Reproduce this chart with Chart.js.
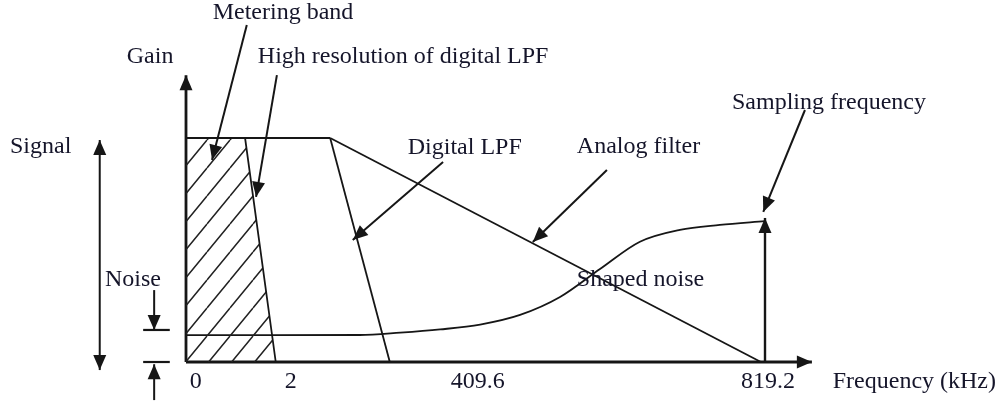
<!DOCTYPE html>
<html>
<head>
<meta charset="utf-8">
<script src="https://cdn.jsdelivr.net/npm/chart.js@4"></script>
<style>
  body { margin: 0; background: #fff; }
  canvas { display: block; }
</style>
</head>
<body>
<canvas id="diagram" width="1006" height="403"></canvas>
<script>
// schematic units: x 0..100 = axis origin .. sampling frequency, y 0..100 = floor .. signal level
const xTickLabels = ['0', '2', '409.6', '819.2'];
const xTickPos = [1.7, 18.1, 50.4, 100.5];

const signalTop = [[0, 100], [24.9, 100]];
const hiResLpf = [[0, 100], [10.2, 100], [15.5, 0]];
const digitalLpf = [[24.9, 100], [35.2, 0]];
const analogFilter = [[24.9, 100], [99.3, 0]];
const noiseX = [0, 15, 30, 37, 43.9, 50.8, 57.7, 64.6, 71.5, 78.4, 85.3, 92.2, 100];
const noiseY = [12, 12, 12.05, 13.1, 14.55, 16.7, 21, 29, 41.5, 53.7, 59, 61.2, 62.9];
const samplingLine = [[100, 0], [100, 64.3]];
const gainAxis = [[0, 0], [0, 128]];
const freqAxis = [[0, 0], [108.1, 0]];

// callout labels and their pointer arrows
const labels = ['Metering band', 'Gain', 'High resolution of digital LPF', 'Signal', 'Digital LPF',
  'Analog filter', 'Sampling frequency', 'Shaped noise', 'Noise', 'Frequency (kHz)'];
const labelAt = [[16.75, 155.8, 'center'], [-6.2, 136.2, 'center'], [12.4, 136.2, 'left'], [-30.4, 96, 'left'],
  [38.3, 95.5, 'left'], [67.5, 96, 'left'], [94.3, 115.6, 'left'], [67.5, 36.6, 'left'], [-14, 36.6, 'left'],
  [111.7, -8.9, 'left']];
const pointers = [
  [[10.5, 150.4], [4.5, 90.2]],
  [[15.7, 128.1], [12.1, 73.7]],
  [[44.4, 89.3], [28.8, 54.5]],
  [[72.7, 85.7], [59.9, 53.6]],
  [[106.9, 112.5], [99.7, 67]]
];
// signal span and noise span markers, left of the gain axis
const signalSpan = [[-14.9, 99.1], [-14.9, -3.6]];
const noiseDown = [[-5.5, 32.1], [-5.5, 14.3]];
const noiseUp = [[-5.5, -17], [-5.5, -1]];
const noiseTicks = [[[-7.4, 14.3], [-2.8, 14.3]], [[-7.4, 0], [-2.8, 0]]];

const ink = '#161616';
const toXY = a => a.map(p => ({ x: p[0], y: p[1] }));

function hatchPattern() {
  const w = 23, h = 28;
  const c = document.createElement('canvas');
  c.width = w; c.height = h;
  const g = c.getContext('2d');
  g.strokeStyle = '#222';
  g.lineWidth = 1.5;
  g.beginPath();
  for (const s of [-w, 0, w]) {
    g.moveTo(s, h);
    g.lineTo(s + w, 0);
  }
  g.stroke();
  return g.createPattern(c, 'repeat');
}

function line(data, width, extra) {
  return Object.assign({
    data: toXY(data), borderColor: ink, borderWidth: width || 1.8,
    pointRadius: 0, tension: 0, fill: false, clip: false
  }, extra || {});
}

function head(ctx, x1, y1, x2, y2) {
  const a = Math.atan2(y2 - y1, x2 - x1), len = 15, half = 6.5;
  ctx.beginPath();
  ctx.moveTo(x2, y2);
  ctx.lineTo(x2 - len * Math.cos(a) + half * Math.sin(a), y2 - len * Math.sin(a) - half * Math.cos(a));
  ctx.lineTo(x2 - len * Math.cos(a) - half * Math.sin(a), y2 - len * Math.sin(a) + half * Math.cos(a));
  ctx.closePath();
  ctx.fill();
}

const annotate = {
  id: 'annotate',
  afterDatasetsDraw(chart) {
    const { ctx, scales: { x, y } } = chart;
    const px = p => [x.getPixelForValue(p[0]), y.getPixelForValue(p[1])];
    const seg = (a, b, w, heads) => {
      const [x1, y1] = px(a), [x2, y2] = px(b);
      ctx.lineWidth = w;
      ctx.beginPath();
      ctx.moveTo(x1, y1);
      ctx.lineTo(x2, y2);
      ctx.stroke();
      if (heads & 1) head(ctx, x1, y1, x2, y2);
      if (heads & 2) head(ctx, x2, y2, x1, y1);
    };
    ctx.save();
    ctx.strokeStyle = ink;
    ctx.fillStyle = ink;
    // arrowheads on the drawn axes and sampling line
    for (const d of [gainAxis, freqAxis, samplingLine]) {
      const [x1, y1] = px(d[0]), [x2, y2] = px(d[1]);
      head(ctx, x1, y1, x2, y2);
    }
    pointers.forEach(p => seg(p[0], p[1], 2, 1));
    seg(signalSpan[0], signalSpan[1], 2, 3);
    seg(noiseDown[0], noiseDown[1], 2, 1);
    seg(noiseUp[0], noiseUp[1], 2, 1);
    noiseTicks.forEach(t => seg(t[0], t[1], 2.2, 0));

    ctx.font = '24px "Liberation Serif", "DejaVu Serif", serif';
    ctx.fillStyle = '#15152a';
    ctx.textBaseline = 'middle';
    labels.forEach((t, i) => {
      const [lx, ly, align] = labelAt[i];
      ctx.textAlign = align;
      const [cx, cy] = px([lx, ly]);
      ctx.fillText(t, cx, cy);
    });
    ctx.textAlign = 'center';
    xTickLabels.forEach((t, i) => {
      const [cx, cy] = px([xTickPos[i], -8.9]);
      ctx.fillText(t, cx, cy);
    });
    ctx.restore();
  }
};

new Chart(document.getElementById('diagram').getContext('2d'), {
  type: 'line',
  data: {
    datasets: [
      line(hiResLpf, 1.8, { fill: 'origin', backgroundColor: hatchPattern() }),
      line(signalTop),
      line(digitalLpf),
      line(analogFilter),
      line(noiseX.map((v, i) => [v, noiseY[i]]), 1.8, { cubicInterpolationMode: 'monotone' }),
      line(samplingLine, 2.4),
      line(gainAxis, 2.8),
      line(freqAxis, 2.8)
    ]
  },
  options: {
    responsive: false,
    animation: false,
    events: [],
    layout: { padding: { left: 186, right: 241, top: 138, bottom: 41 } },
    plugins: { legend: { display: false }, tooltip: { enabled: false } },
    scales: {
      x: { type: 'linear', min: 0, max: 100, display: false },
      y: { type: 'linear', min: 0, max: 100, display: false }
    }
  },
  plugins: [annotate]
});
</script>
</body>
</html>
